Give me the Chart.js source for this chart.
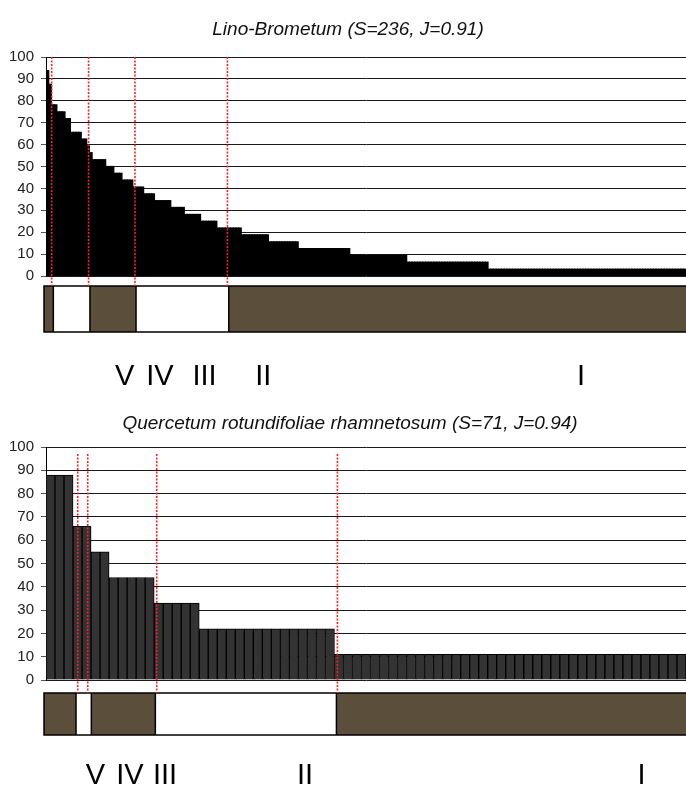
<!DOCTYPE html>
<html>
<head>
<meta charset="utf-8">
<script src="https://cdn.jsdelivr.net/npm/chart.js@4/dist/chart.umd.min.js"></script>
<style>
  html, body { margin: 0; padding: 0; background: #fff; }
  #wrap { position: relative; width: 686px; height: 787px; overflow: hidden; }
  canvas { position: absolute; left: 0; }
  #c1 { top: 0; }
  #c2 { top: 400px; }
</style>
</head>
<body>
<div id="wrap">
  <canvas id="c1" width="686" height="400"></canvas>
  <canvas id="c2" width="686" height="387"></canvas>
</div>
<script>
// ---------- DATA ----------
const topTitle = 'Lino-Brometum (S=236, J=0.91)';
const bottomTitle = 'Quercetum rotundifoliae rhamnetosum (S=71, J=0.94)';
const classNames = ['V', 'IV', 'III', 'II', 'I'];

// Lino-Brometum: constancy (%) of each of the 236 species, ranked
const topCover = [
  93.8, 87.5, 78.1, 78.1, 75, 75, 75, 71.9, 71.9, 65.6,
  65.6, 65.6, 65.6, 62.5, 62.5, 59.4, 56.3, 53.1, 53.1, 53.1,
  53.1, 53.1, 50, 50, 50, 46.9, 46.9, 46.9, 43.8, 43.8,
  43.8, 43.8, 40.6, 40.6, 40.6, 40.6, 37.5, 37.5, 37.5, 37.5,
  34.4, 34.4, 34.4, 34.4, 34.4, 34.4, 31.3, 31.3, 31.3, 31.3,
  31.3, 28.1, 28.1, 28.1, 28.1, 28.1, 28.1, 25, 25, 25,
  25, 25, 25, 21.9, 21.9, 21.9, 21.9, 21.9, 21.9, 21.9,
  21.9, 21.9, 18.8, 18.8, 18.8, 18.8, 18.8, 18.8, 18.8, 18.8,
  18.8, 18.8, 15.6, 15.6, 15.6, 15.6, 15.6, 15.6, 15.6, 15.6,
  15.6, 15.6, 15.6, 12.5, 12.5, 12.5, 12.5, 12.5, 12.5, 12.5,
  12.5, 12.5, 12.5, 12.5, 12.5, 12.5, 12.5, 12.5, 12.5, 12.5,
  12.5, 12.5, 9.4, 9.4, 9.4, 9.4, 9.4, 9.4, 9.4, 9.4,
  9.4, 9.4, 9.4, 9.4, 9.4, 9.4, 9.4, 9.4, 9.4, 9.4,
  9.4, 9.4, 9.4, 6.3, 6.3, 6.3, 6.3, 6.3, 6.3, 6.3,
  6.3, 6.3, 6.3, 6.3, 6.3, 6.3, 6.3, 6.3, 6.3, 6.3,
  6.3, 6.3, 6.3, 6.3, 6.3, 6.3, 6.3, 6.3, 6.3, 6.3,
  6.3, 6.3, 6.3, 3.1, 3.1, 3.1, 3.1, 3.1, 3.1, 3.1,
  3.1, 3.1, 3.1, 3.1, 3.1, 3.1, 3.1, 3.1, 3.1, 3.1,
  3.1, 3.1, 3.1, 3.1, 3.1, 3.1, 3.1, 3.1, 3.1, 3.1,
  3.1, 3.1, 3.1, 3.1, 3.1, 3.1, 3.1, 3.1, 3.1, 3.1,
  3.1, 3.1, 3.1, 3.1, 3.1, 3.1, 3.1, 3.1, 3.1, 3.1,
  3.1, 3.1, 3.1, 3.1, 3.1, 3.1, 3.1, 3.1, 3.1, 3.1,
  3.1, 3.1, 3.1, 3.1, 3.1, 3.1, 3.1, 3.1, 3.1, 3.1,
  3.1, 3.1, 3.1, 3.1, 3.1, 3.1
];
// species-rank positions (in species counts) of the class limits
const topLimitLines = [2.1, 15.7, 32.8, 66.9];
const topBandEdges = [2.7, 16.2, 33.2, 67.4];

// Quercetum rotundifoliae rhamnetosum: constancy (%) of the 71 species
const bottomCover = [
  88, 88, 88, 66, 66, 55, 55, 44, 44, 44,
  44, 44, 33, 33, 33, 33, 33, 22, 22, 22,
  22, 22, 22, 22, 22, 22, 22, 22, 22, 22,
  22, 22, 11, 11, 11, 11, 11, 11, 11, 11,
  11, 11, 11, 11, 11, 11, 11, 11, 11, 11,
  11, 11, 11, 11, 11, 11, 11, 11, 11, 11,
  11, 11, 11, 11, 11, 11, 11, 11, 11, 11,
  11
];
const bottomLimitLines = [3.52, 4.63, 12.28, 32.33];
const bottomBandEdges = [3.33, 5.03, 12.13, 32.22];

const topRanks = topCover.map((_, i) => String(i + 1));
const bottomRanks = bottomCover.map((_, i) => String(i + 1));

// ---------- STYLE ----------
const FONT = '"Liberation Sans", Arial, sans-serif';
const BROWN = '#5b4f3c';

const decor = {
  id: 'decor',
  afterDraw(chart, args, o) {
    const { ctx, chartArea } = chart;
    const xs = chart.scales.x;
    const px = c => xs.getPixelForValue(c - 0.5);
    const bandTop = chartArea.bottom + o.bandTop;
    const bandBot = chartArea.bottom + o.bandBottom;
    ctx.save();
    // bands
    const edges = [chartArea.left - 2, ...o.bandEdges.map(px), chartArea.right + 2];
    for (let i = 0; i < edges.length - 1; i++) {
      ctx.fillStyle = i % 2 === 0 ? BROWN : '#ffffff';
      ctx.fillRect(edges[i], bandTop, edges[i + 1] - edges[i], bandBot - bandTop);
    }
    ctx.strokeStyle = '#000';
    ctx.lineWidth = 1.5;
    ctx.strokeRect(edges[0], bandTop, edges[edges.length - 1] - edges[0], bandBot - bandTop);
    o.bandEdges.forEach(c => {
      const X = px(c);
      ctx.beginPath(); ctx.moveTo(X, bandTop); ctx.lineTo(X, bandBot); ctx.stroke();
    });
    // class limit lines
    ctx.strokeStyle = 'rgb(255,30,30)';
    ctx.lineWidth = 1.6;
    ctx.setLineDash([2, 1.5]);
    o.limitLines.forEach(c => {
      const X = px(c);
      ctx.beginPath(); ctx.moveTo(X, chartArea.top + o.lineTopOffset); ctx.lineTo(X, bandTop); ctx.stroke();
    });
    ctx.setLineDash([]);
    // title
    ctx.fillStyle = '#111';
    ctx.font = 'italic 19px ' + FONT;
    ctx.textAlign = 'center';
    ctx.textBaseline = 'middle';
    ctx.fillText(o.title, o.titleX, o.titleY);
    // class labels
    ctx.font = '29px ' + FONT;
    ctx.textBaseline = 'alphabetic';
    ctx.fillStyle = '#000';
    classNames.forEach((n, i) => ctx.fillText(n, o.labelX[i], chartArea.bottom + o.labelBaseline));
    ctx.restore();
  }
};

function makeChart(id, labels, data, barStyle, pad, decorOpts) {
  return new Chart(document.getElementById(id), {
    type: 'bar',
    data: {
      labels,
      datasets: [Object.assign({
        data,
        barPercentage: 1,
        categoryPercentage: 1
      }, barStyle)]
    },
    options: {
      responsive: false,
      animation: false,
      devicePixelRatio: 1,
      layout: { padding: pad },
      plugins: { legend: { display: false }, tooltip: { enabled: false }, decor: decorOpts },
      scales: {
        x: { display: false, offset: true },
        y: {
          min: 0, max: 100,
          ticks: { stepSize: 10, color: '#222', padding: 7, font: { family: FONT, size: 15 } },
          grid: { color: '#1a1a1a', lineWidth: 1, tickLength: 5, tickColor: '#555' },
          border: { display: true, color: '#000', width: 1 },
          afterFit(s) { s.width = 46; }
        }
      }
    },
    plugins: [decor]
  });
}

makeChart('c1', topRanks, topCover,
  { backgroundColor: '#000', borderWidth: 0, inflateAmount: 0.6 },
  { top: 57, bottom: 124, left: 0, right: 0 },
  { title: topTitle, titleX: 348, titleY: 30,
    bandEdges: topBandEdges, limitLines: topLimitLines,
    bandTop: 10, bandBottom: 56, lineTopOffset: 0,
    labelX: [124.7, 160, 204.5, 263.3, 581], labelBaseline: 109 });

makeChart('c2', bottomRanks, bottomCover,
  { backgroundColor: '#333333', borderColor: '#000', borderWidth: 1 },
  { top: 47, bottom: 107, left: 0, right: 0 },
  { title: bottomTitle, titleX: 350, titleY: 24,
    bandEdges: bottomBandEdges, limitLines: bottomLimitLines,
    bandTop: 13, bandBottom: 55, lineTopOffset: 7,
    labelX: [95.5, 130, 165, 305, 641.5], labelBaseline: 104 });
</script>
</body>
</html>
